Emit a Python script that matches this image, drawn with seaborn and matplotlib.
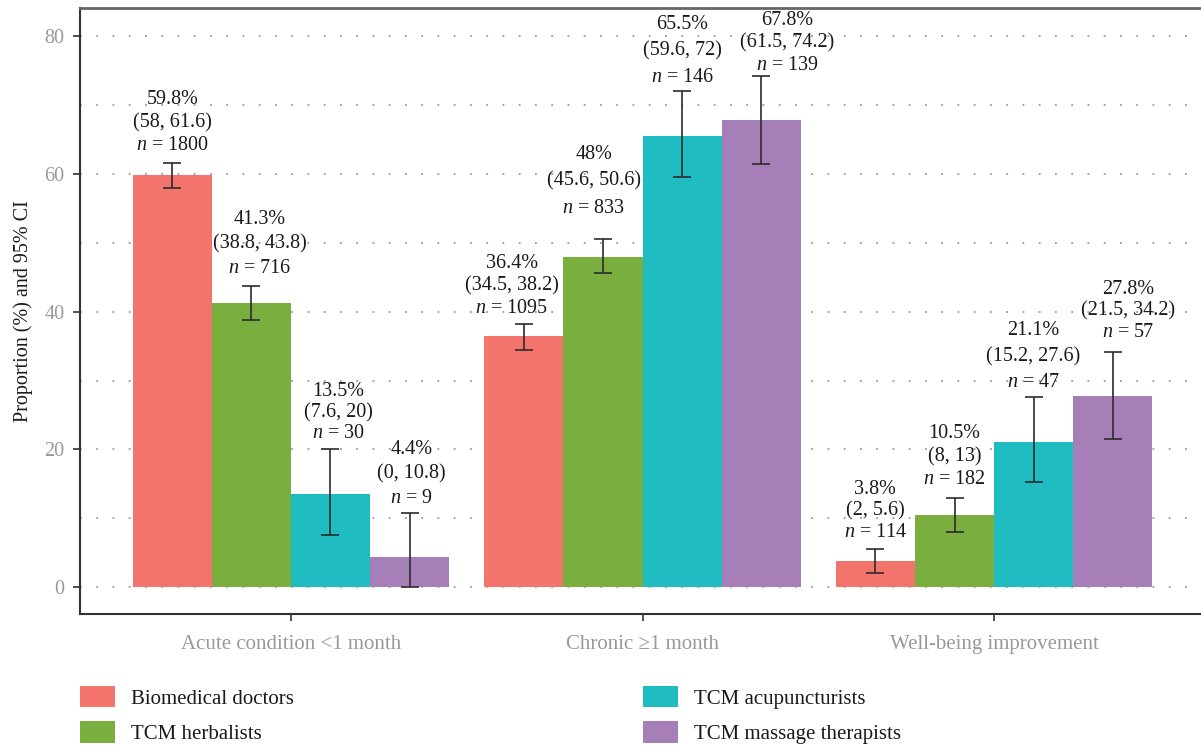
import matplotlib
matplotlib.use("Agg")
import matplotlib.pyplot as plt
import seaborn as sns
import pandas as pd
import numpy as np
from matplotlib.patches import Patch

categories = ["Acute condition <1 month", "Chronic \u22651 month", "Well-being improvement"]
providers = ["Biomedical doctors", "TCM herbalists", "TCM acupuncturists", "TCM massage therapists"]
colors = ["#F2746C", "#7AAF3F", "#1FBCC1", "#A67FB9"]

# values per provider, in category order
pct = {
    "Biomedical doctors":     [59.8, 36.4, 3.8],
    "TCM herbalists":         [41.3, 48.0, 10.5],
    "TCM acupuncturists":     [13.5, 65.5, 21.1],
    "TCM massage therapists": [4.4, 67.8, 27.8],
}
ci_low = {
    "Biomedical doctors":     [58, 34.5, 2],
    "TCM herbalists":         [38.8, 45.6, 8],
    "TCM acupuncturists":     [7.6, 59.6, 15.2],
    "TCM massage therapists": [0, 61.5, 21.5],
}
ci_high = {
    "Biomedical doctors":     [61.6, 38.2, 5.6],
    "TCM herbalists":         [43.8, 50.6, 13],
    "TCM acupuncturists":     [20, 72, 27.6],
    "TCM massage therapists": [10.8, 74.2, 34.2],
}
n_obs = {
    "Biomedical doctors":     [1800, 1095, 114],
    "TCM herbalists":         [716, 833, 182],
    "TCM acupuncturists":     [30, 146, 47],
    "TCM massage therapists": [9, 139, 57],
}
pct_text = {
    "Biomedical doctors":     ["59.8%", "36.4%", "3.8%"],
    "TCM herbalists":         ["41.3%", "48%", "10.5%"],
    "TCM acupuncturists":     ["13.5%", "65.5%", "21.1%"],
    "TCM massage therapists": ["4.4%", "67.8%", "27.8%"],
}
ci_text = {
    "Biomedical doctors":     ["(58, 61.6)", "(34.5, 38.2)", "(2, 5.6)"],
    "TCM herbalists":         ["(38.8, 43.8)", "(45.6, 50.6)", "(8, 13)"],
    "TCM acupuncturists":     ["(7.6, 20)", "(59.6, 72)", "(15.2, 27.6)"],
    "TCM massage therapists": ["(0, 10.8)", "(61.5, 74.2)", "(21.5, 34.2)"],
}
y_ticks = [0, 20, 40, 60, 80]

# label styling (repel-like placement): line spacing, x nudge and lift in points
label_linespacing = {
    "Biomedical doctors":     [1.29, 1.24, 1.18],
    "TCM herbalists":         [1.38, 1.57, 1.29],
    "TCM acupuncturists":     [1.12, 1.52, 1.52],
    "TCM massage therapists": [1.40, 1.24, 1.18],
}
label_nudge_x = {
    "Biomedical doctors":     [0, -8.6, 0],
    "TCM herbalists":         [5.8, -6.5, 0],
    "TCM acupuncturists":     [5.8, 0, 0],
    "TCM massage therapists": [1.4, 19, 11],
}
label_lift = {
    "Biomedical doctors":     [5.5, 4.7, 4.7],
    "TCM herbalists":         [5.5, 15, 6],
    "TCM acupuncturists":     [4.7, 3.3, 3.3],
    "TCM massage therapists": [3.3, 1.1, 6.9],
}

rows = []
for p in providers:
    for i, c in enumerate(categories):
        rows.append({"category": c, "provider": p, "pct": pct[p][i]})
df = pd.DataFrame(rows)

sns.set_style("white")
plt.rcParams["font.family"] = ["Liberation Serif", "DejaVu Serif"]
plt.rcParams["mathtext.fontset"] = "custom"
plt.rcParams["mathtext.it"] = "Liberation Serif:italic"
plt.rcParams["mathtext.rm"] = "Liberation Serif"

fig = plt.figure(figsize=(12.01, 7.46), dpi=100)
ax = fig.add_axes([80 / 1201, 1 - 614 / 746, (1205 - 80) / 1201, (614 - 8) / 746])

sns.barplot(data=df, x="category", y="pct", hue="provider", order=categories,
            hue_order=providers, palette=colors, errorbar=None, width=0.9,
            saturation=1, ax=ax, legend=False, zorder=2, linewidth=0)

for cont, p in zip(ax.containers, providers):
    for i, bar in enumerate(cont):
        xc = bar.get_x() + bar.get_width() / 2
        v = pct[p][i]
        lo, hi = ci_low[p][i], ci_high[p][i]
        ax.errorbar(xc, v, yerr=[[v - lo], [hi - v]], fmt="none", ecolor="#2b2b2b",
                    elinewidth=1.2, capsize=6.5, capthick=1.2, zorder=3)
        label = f"{pct_text[p][i]}\n{ci_text[p][i]}\n$n$ = {n_obs[p][i]}"
        ax.annotate(label, (xc, hi), xytext=(label_nudge_x[p][i], label_lift[p][i]),
                    textcoords="offset points", ha="center", va="bottom", fontsize=14.5,
                    linespacing=label_linespacing[p][i], color="#1a1a1a", zorder=4)

ax.set_xlim(-0.6, 2.6)
ax.set_ylim(-3.9, 84.1)
ax.set_yticks(y_ticks)
for yv in np.arange(0, 81, 10):
    ax.axhline(yv, color="#9a9a9a", lw=1.3, ls=(0, (1, 8)), zorder=1)

ax.tick_params(axis="y", which="major", direction="out", length=5, width=1.2,
               color="#333333", labelsize=14.5, labelcolor="#999999", left=True, pad=6)
ax.tick_params(axis="x", direction="out", length=5, width=1.2, color="#333333",
               labelsize=15, labelcolor="#999999", bottom=True, pad=10)
ax.set_xlabel("")
ax.set_ylabel("Proportion (%) and 95% CI", fontsize=14.5, color="#1a1a1a", labelpad=8)

for s in ["left", "bottom"]:
    ax.spines[s].set_color("#333333")
    ax.spines[s].set_linewidth(1.5)
ax.spines["top"].set_color("#666666")
ax.spines["top"].set_linewidth(2)
ax.spines["right"].set_visible(False)

handles = [Patch(facecolor=c, edgecolor="none", label=p) for p, c in zip(providers, colors)]
leg = fig.legend(handles=handles, loc="upper left", bbox_to_anchor=(80 / 1201, 1 - 686 / 746),
                 ncol=2, frameon=False, fontsize=15, handlelength=1.7, handleheight=1.2,
                 columnspacing=16.75, labelspacing=0.6, handletextpad=0.75, borderpad=0,
                 borderaxespad=0)
for t in leg.get_texts():
    t.set_color("#1a1a1a")

fig.savefig("out.png", dpi=100)
